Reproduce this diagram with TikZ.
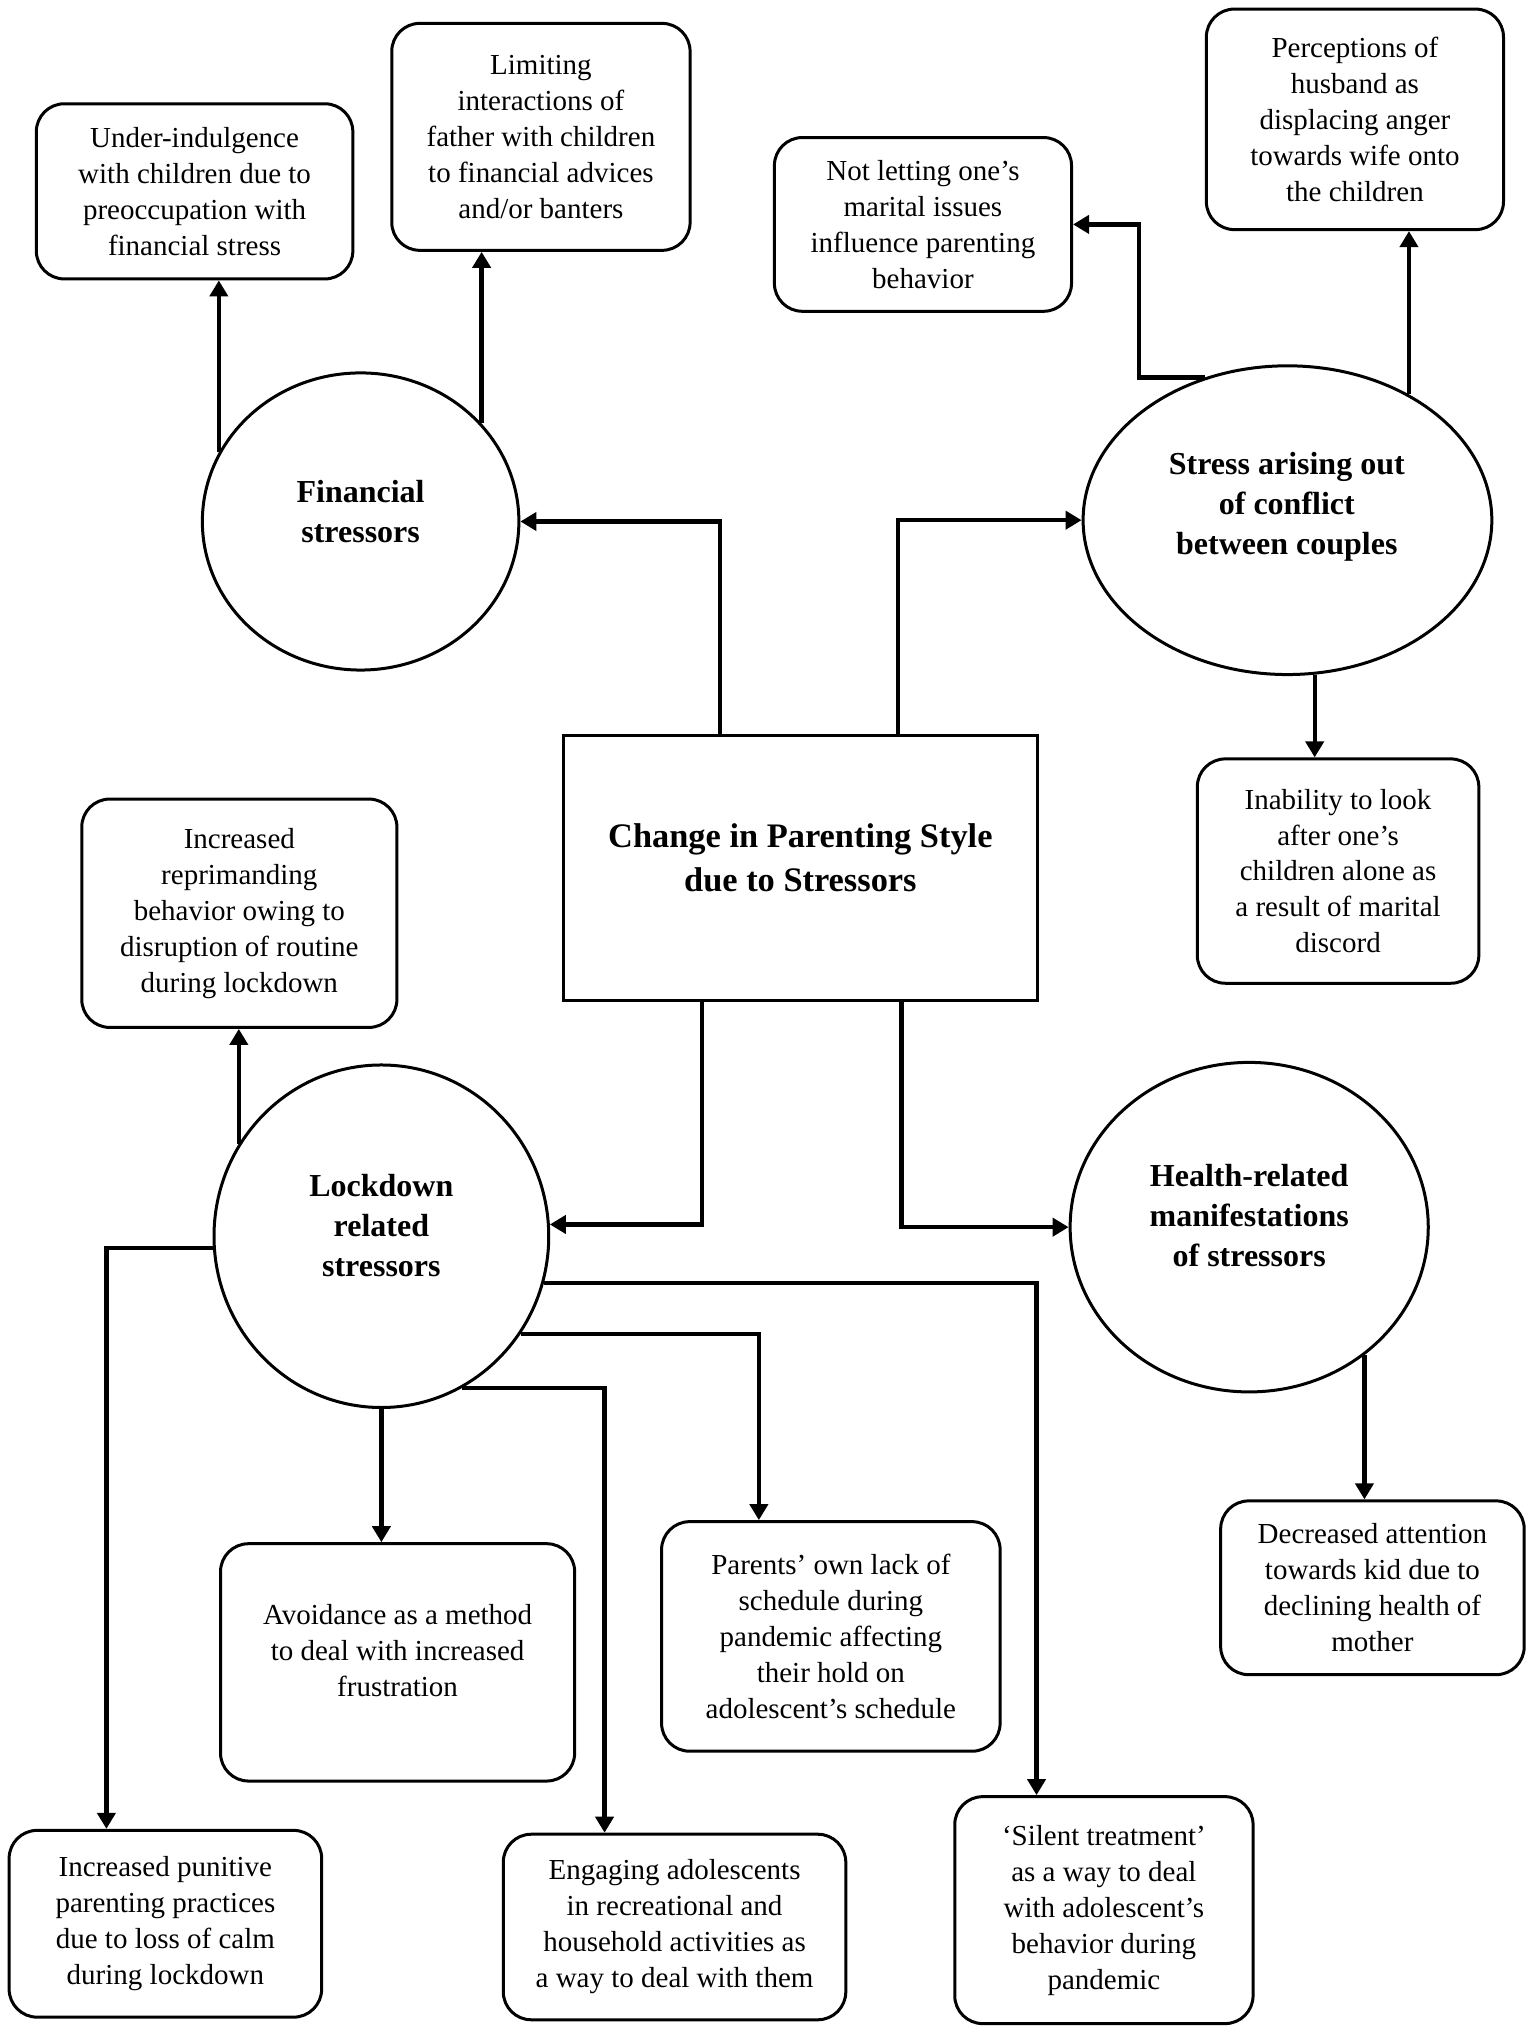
\documentclass[tikz,border=0pt]{standalone}
\usepackage{fontspec}
\setmainfont{Liberation Serif}
\usetikzlibrary{arrows.meta,shapes.geometric}
\begin{document}
\begin{tikzpicture}[x=0.64875pt,y=-0.64875pt,
  box/.style={draw,line width=1.5pt,rounded corners=14pt,align=center,inner sep=0pt,
    font=\fontsize{14.5}{18}\selectfont},
  txt/.style={align=center,inner sep=0pt,font=\fontsize{14.5}{18}\selectfont},
  ell/.style={draw,ellipse,line width=1.5pt,inner sep=0pt},
  bt/.style={align=center,inner sep=0pt,font=\fontsize{16}{20}\selectfont\bfseries},
  arr/.style={line width=2.2pt,-{Triangle[length=8pt,width=9pt]}}
]
\useasboundingbox (0,0) rectangle (1183,1568);

% central rectangle
\node[draw,line width=1.5pt,minimum width=237.4pt,minimum height=132.3pt,inner sep=0pt] (c) at (617,669) {};
\node[align=center,inner sep=0pt,font=\fontsize{17.2}{22}\selectfont\bfseries] (c-t) at (617,661) {Change in Parenting Style\\due to Stressors};

% ellipses
\node[ell,minimum width=158.3pt,minimum height=148.6pt] (fin) at (278,402) {};
\node[bt] (fin-t) at (278,394) {Financial\\stressors};
\node[ell,minimum width=204.4pt,minimum height=154.4pt] (str) at (992.5,401) {};
\node[bt] (str-t) at (992,391) {Stress arising out\\of conflict\\between couples};
\node[ell,minimum width=167.4pt,minimum height=171.3pt] (lock) at (294,953) {};
\node[bt] (lock-t) at (294,945) {Lockdown\\related\\stressors};
\node[ell,minimum width=179.1pt,minimum height=164.8pt] (hea) at (963,946) {};
\node[bt] (hea-t) at (963,937) {Health-related\\manifestations\\of stressors};

% boxes
\node[box,minimum width=158.3pt,minimum height=87.6pt] (ui) at (150,147.5)
  {Under-indulgence\\with children due to\\preoccupation with\\financial stress};
\node[box,minimum width=149.2pt,minimum height=113.5pt] (lim) at (417,105.5)
  {Limiting\\interactions of\\father with children\\to financial advices\\and/or banters};
\node[box,minimum width=148.6pt,minimum height=86.9pt] (nl) at (711.5,173)
  {Not letting one’s\\marital issues\\influence parenting\\behavior};
\node[box,minimum width=148.6pt,minimum height=110.3pt] (per) at (1044.5,92)
  {Perceptions of\\husband as\\displacing anger\\towards wife onto\\the children};
\node[box,minimum width=140.8pt,minimum height=112.2pt] (ina) at (1031.5,671.5)
  {Inability to look\\after one’s\\children alone as\\a result of marital\\discord};
\node[box,minimum width=157.6pt,minimum height=114.2pt] (rep) at (184.5,704)
  {Increased\\reprimanding\\behavior owing to\\disruption of routine\\during lockdown};
\node[box,minimum width=177.1pt,minimum height=118.7pt] (avo) at (306.5,1281.5) {};
\node[txt] (avo-t) at (306.5,1272.5) {Avoidance as a method\\to deal with increased\\frustration};
\node[box,minimum width=169.3pt,minimum height=114.8pt] (par) at (640.5,1261.5)
  {Parents’ own lack of\\schedule during\\pandemic affecting\\their hold on\\adolescent’s schedule};
\node[box,minimum width=151.8pt,minimum height=86.9pt] (dec) at (1058,1224)
  {Decreased attention\\towards kid due to\\declining health of\\mother};
\node[box,minimum width=156.3pt,minimum height=93.4pt] (pun) at (127.5,1483)
  {Increased punitive\\parenting practices\\due to loss of calm\\during lockdown};
\node[box,minimum width=171.3pt,minimum height=92.8pt] (eng) at (520,1485.5)
  {Engaging adolescents\\in recreational and\\household activities as\\a way to deal with them};
\node[box,minimum width=149.2pt,minimum height=113.5pt] (sil) at (851,1472.5)
  {‘Silent treatment’\\as a way to deal\\with adolescent’s\\behavior during\\pandemic};

% connectors from centre
\draw[arr] ([xshift=-40.2pt]c.north) |- (fin.east);
\draw[arr] ([xshift=48.7pt]c.north) |- (str.west);
\draw[arr] ([xshift=-49.3pt]c.south) |- (lock.4);
\draw[arr] ([xshift=50.6pt]c.south) |- (hea.west);

% financial
\draw[arr] (fin.154) -- (fin.154 |- ui.south);
\draw[arr] (fin.39) -- (fin.39 |- lim.south);

% couples
\draw[arr] (str.120) -- ++(-51,0) |- (nl.east);
\draw[arr] (str.46) -- (str.46 |- per.south);
\draw[arr] (str.280) -- (str.280 |- ina.north);

% health
\draw[arr] (hea.312) -- (hea.312 |- dec.north);

% lockdown
\draw[arr] (lock.147) -- (lock.147 |- rep.south);
\draw[arr] (lock.184) -| ([xshift=-29.5pt]pun.north);
\draw[arr] (lock.south) -- (lock.south |- avo.north);
\draw[arr] (lock.298) -| ([xshift=-35pt]eng.north);
\draw[arr] (lock.325) -| ([xshift=-36pt]par.north);
\draw[arr] (lock.344) -| ([xshift=-33.7pt]sil.north);
\end{tikzpicture}
\end{document}
